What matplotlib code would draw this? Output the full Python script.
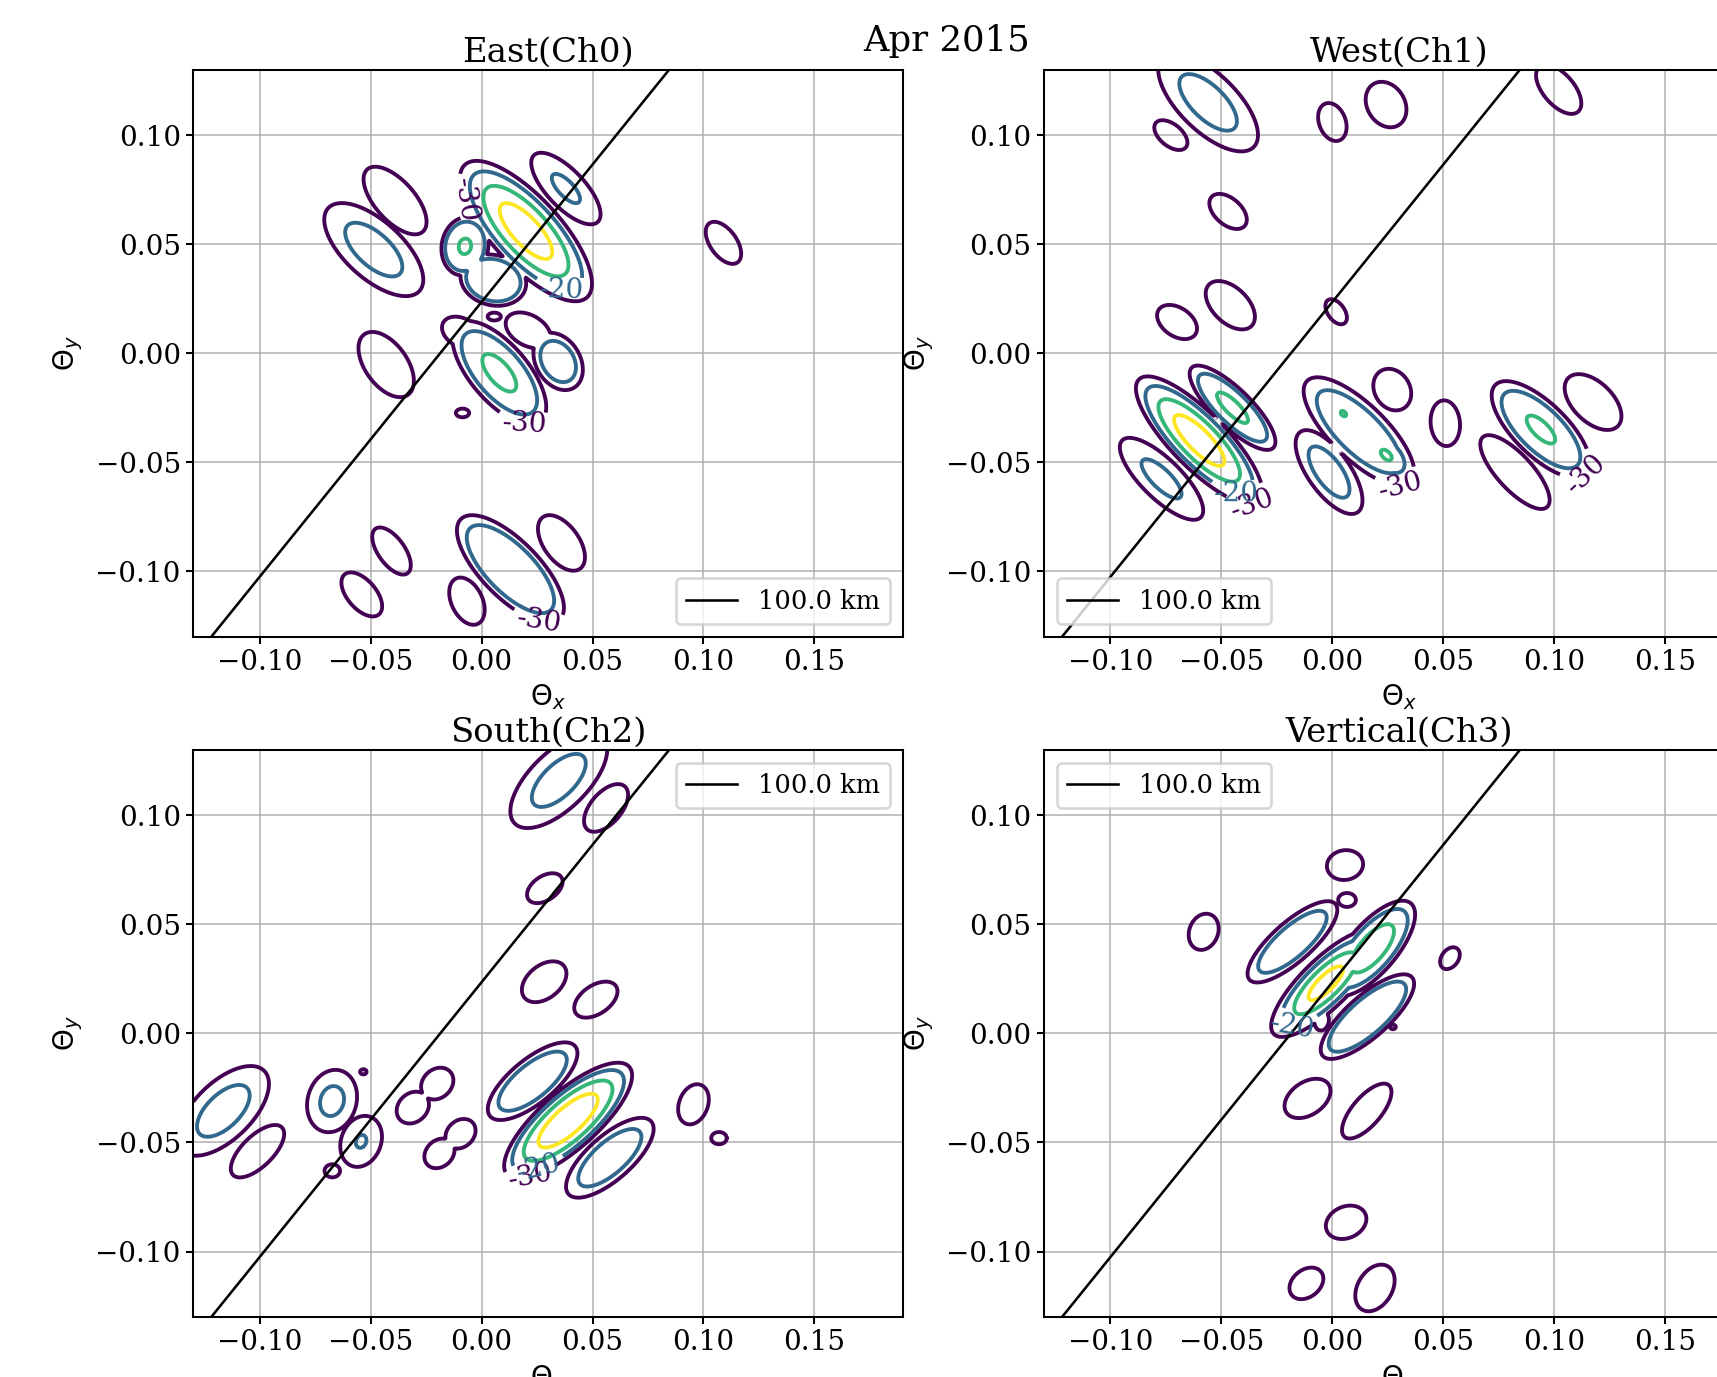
import numpy as np
import matplotlib
matplotlib.use("Agg")
import matplotlib.pyplot as plt

plt.rcParams['font.family'] = 'serif'
plt.rcParams['font.size'] = 10.8
plt.rcParams['xtick.major.size'] = 2.6
plt.rcParams['ytick.major.size'] = 2.6
plt.rcParams['xtick.major.pad'] = 2.2
plt.rcParams['ytick.major.pad'] = 2.2

month = "Apr 2015"
panel_titles = ["East(Ch0)", "West(Ch1)", "South(Ch2)", "Vertical(Ch3)"]
legend_locs = ["lower right", "lower left", "upper right", "upper left"]
levels = [-30, -20, -10, -3]
x_ticks = [-0.10, -0.05, 0.00, 0.05, 0.10, 0.15]
y_ticks = [-0.10, -0.05, 0.00, 0.05, 0.10]
baseline_label = "100.0 km"
baseline_slope = 1.26
baseline_offset = 0.0235

# lobes:
# (x, y, peak dB, half length, half width, angle deg, edge exponent)
east_lobes = [
    (-0.0486, 0.0475, -15, 0.028, 0.013, -43, 2),
    (-0.039, 0.070, -26, 0.019, 0.009, -49, 2),
    (0.020, 0.056, 0, 0.041, 0.0155, -48, 2.5),
    (0.038, 0.0755, -18, 0.021, 0.0085, -47, 2),
    (-0.0075, 0.049, -9.9, 0.0135, 0.0105, 80, 4),
    (-0.002, 0.0628, -29, 0.0045, 0.0025, -30, 2),
    (0.0053, 0.0335, -11, 0.015, 0.0115, -15, 4),
    (0.0057, 0.0168, -29, 0.003, 0.0018, 0, 2),
    (-0.009, 0.0094, -27, 0.0095, 0.0065, -30, 2),
    (0.021, 0.0105, -27, 0.011, 0.007, -30, 2),
    (-0.043, -0.0052, -27, 0.017, 0.0095, -55, 2),
    (0.008, -0.009, -9, 0.029, 0.013, -50, 3),
    (0.0345, -0.0038, -14, 0.014, 0.010, -60, 3),
    (-0.0086, -0.0274, -29, 0.003, 0.002, 0, 2),
    (0.109, 0.0506, -26, 0.011, 0.006, -55, 2),
    (-0.0406, -0.0907, -26, 0.0125, 0.006, -55, 2),
    (-0.054, -0.1106, -26, 0.012, 0.0065, -50, 2),
    (0.013, -0.099, -12, 0.032, 0.013, -46, 4),
    (0.036, -0.087, -26, 0.0145, 0.008, -55, 2),
    (-0.0066, -0.1137, -26, 0.0115, 0.007, -65, 2),
]

west_lobes = [
    (-0.056, 0.115, -15, 0.029, 0.013, -45, 2),
    (-0.0728, 0.100, -27, 0.0088, 0.005, -40, 2),
    (0.000, 0.106, -26, 0.009, 0.006, -70, 2),
    (0.0242, 0.114, -26, 0.011, 0.0085, -60, 2),
    (0.102, 0.121, -26, 0.0135, 0.007, -50, 2),
    (-0.047, 0.065, -27, 0.010, 0.006, -42, 2),
    (-0.046, 0.022, -26, 0.0135, 0.008, -45, 2),
    (-0.070, 0.0143, -27, 0.010, 0.0065, -35, 2),
    (0.0017, 0.019, -28, 0.0065, 0.0038, -55, 2),
    (-0.060, -0.040, 0, 0.039, 0.0125, -46, 2.5),
    (-0.045, -0.025, -9, 0.026, 0.0085, -45, 3),
    (-0.077, -0.0576, -17, 0.025, 0.009, -45, 2),
    (-0.0015, -0.0545, -14, 0.0225, 0.0095, -55, 2),
    (0.012, -0.036, -12, 0.033, 0.0125, -45, 3),
    (0.005, -0.0277, -9.7, 0.0125, 0.008, -45, 2),
    (0.0243, -0.0467, -9, 0.014, 0.008, -45, 2),
    (0.027, -0.0167, -27, 0.010, 0.008, -60, 2),
    (0.0509, -0.0321, -27, 0.0105, 0.0066, -85, 2),
    (0.094, -0.035, -9.5, 0.029, 0.012, -45, 3),
    (0.1175, -0.0224, -27, 0.0157, 0.009, -45, 2),
    (0.0823, -0.0545, -26, 0.0216, 0.008, -48, 2),
]

south_lobes = [
    (0.0348, 0.116, -15.5, 0.028, 0.013, 45, 2),
    (0.0561, 0.1034, -27, 0.013, 0.007, 50, 2),
    (0.0285, 0.0666, -27, 0.009, 0.0055, 35, 2),
    (0.0282, 0.0237, -27, 0.0115, 0.0075, 40, 2),
    (0.0515, 0.0155, -27, 0.011, 0.0065, 35, 2),
    (0.023, -0.0219, -12, 0.025, 0.010, 40, 3),
    (0.039, -0.040, 0, 0.037, 0.013, 42, 3),
    (0.0578, -0.057, -14, 0.025, 0.010, 42, 3),
    (0.0955, -0.0325, -27, 0.0095, 0.0065, 70, 2),
    (0.107, -0.048, -28, 0.0035, 0.0028, 0, 2),
    (-0.1164, -0.0355, -15, 0.026, 0.013, 45, 2),
    (-0.101, -0.054, -27, 0.0155, 0.007, 45, 2),
    (-0.0674, -0.031, -17, 0.0145, 0.011, 75, 2),
    (-0.0533, -0.0176, -29.5, 0.0015, 0.0012, 0, 2),
    (-0.0543, -0.0495, -19.3, 0.012, 0.009, 70, 2),
    (-0.0673, -0.063, -28, 0.0035, 0.003, 0, 2),
    (-0.031, -0.034, -27, 0.008, 0.0065, 45, 2),
    (-0.020, -0.023, -27, 0.008, 0.0065, 45, 2),
    (-0.019, -0.055, -27, 0.0075, 0.006, 45, 2),
    (-0.0095, -0.046, -27, 0.0075, 0.006, 45, 2),
]

vertical_lobes = [
    (0.0057, 0.0772, -27, 0.0082, 0.0068, 10, 2),
    (0.0066, 0.0612, -28, 0.004, 0.0032, 0, 2),
    (-0.018, 0.042, -12, 0.026, 0.009, 42, 3),
    (-0.003, 0.023, 0, 0.033, 0.011, 45, 2),
    (0.018, 0.039, -7, 0.027, 0.011, 50, 3),
    (0.0158, 0.0077, -11, 0.027, 0.0095, 42, 4),
    (-0.0048, 0.0058, -28, 0.0045, 0.0032, 80, 2),
    (0.0273, 0.003, -29, 0.0013, 0.0011, 0, 2),
    (-0.058, 0.0466, -27, 0.0085, 0.0065, 70, 2),
    (0.053, 0.0345, -27, 0.0055, 0.0038, 55, 2),
    (-0.0112, -0.0298, -27, 0.0115, 0.0075, 35, 2),
    (0.0155, -0.0356, -27, 0.0155, 0.0065, 50, 2),
    (0.0062, -0.0866, -27, 0.0095, 0.0072, 25, 2),
    (-0.0117, -0.1146, -27, 0.0085, 0.0062, 40, 2),
    (0.0192, -0.1167, -27, 0.0115, 0.0078, 60, 2),
]

# contour label spots: {level: [(x, y), ...]}
east_labels = {-30: [(-0.0075, 0.070), (0.019, -0.0335), (0.0258, -0.123)],
               -20: [(0.037, 0.033)]}
west_labels = {-30: [(-0.036, -0.070), (0.031, -0.061), (0.118, -0.060)],
               -20: [(-0.043, -0.064)]}
south_labels = {-30: [(0.0225, -0.068)], -20: [(0.026, -0.063)]}
vertical_labels = {-20: [(-0.018, 0.003)]}

all_lobes = [east_lobes, west_lobes, south_lobes, vertical_lobes]
all_labels = [east_labels, west_labels, south_labels, vertical_labels]

x_range = (-0.13, 0.19)
y_range = (-0.13, 0.13)


def beam_map(lobes, gx, gy):
    field = np.full(gx.shape, -60.0)
    for cx, cy, peak, a, b, ang, gam in lobes:
        t = np.radians(ang)
        u = (gx - cx) * np.cos(t) + (gy - cy) * np.sin(t)
        v = -(gx - cx) * np.sin(t) + (gy - cy) * np.cos(t)
        d = np.hypot(u / a, v / b)
        field = np.maximum(field, peak - (peak + 30) * d ** gam)
    return field


fig = plt.figure(figsize=(1717 / 185, 1377 / 185), dpi=185)
positions = [(0.1125, 0.5376), (0.6080, 0.5376), (0.1125, 0.0436), (0.6080, 0.0436)]
ax_w, ax_h = 0.4135, 0.4118

gx, gy = np.meshgrid(np.linspace(x_range[0], x_range[1], 641),
                     np.linspace(y_range[0], y_range[1], 521))
colors = plt.get_cmap('viridis')(np.linspace(0, 1, len(levels)))
bx = np.array([-0.2, 0.2])

for i in range(4):
    ax = fig.add_axes([positions[i][0], positions[i][1], ax_w, ax_h])
    ax.set_xlim(*x_range)
    ax.set_ylim(*y_range)
    ax.grid(True, color='#b0b0b0', linewidth=0.6)
    ax.set_axisbelow(True)
    z = beam_map(all_lobes[i], gx, gy)
    # one contour set per level so each level can get its own labels
    for lev, col in zip(levels, colors):
        cs = ax.contour(gx, gy, z, levels=[lev], colors=[col], linewidths=1.5,
                        linestyles='solid')
        spots = all_labels[i].get(lev)
        if spots:
            ax.clabel(cs, manual=spots, inline=True, fmt='%d', fontsize=10.8)
    ax.plot(bx, baseline_slope * bx + baseline_offset, color='k', linewidth=1.0,
            label=baseline_label)
    ax.set_xlim(*x_range)
    ax.set_ylim(*y_range)
    ax.set_xticks(x_ticks)
    ax.set_yticks(y_ticks)
    ax.set_title(panel_titles[i], fontsize=13.2, pad=3.0)
    ax.set_xlabel(r'$\Theta_x$', labelpad=2.5)
    ax.set_ylabel(r'$\Theta_y$')
    ax.legend(loc=legend_locs[i], fontsize=10)

fig.text(0.5514, 0.963, month, ha='center', va='baseline', fontsize=13.8)

fig.savefig('out.png', dpi=185)
